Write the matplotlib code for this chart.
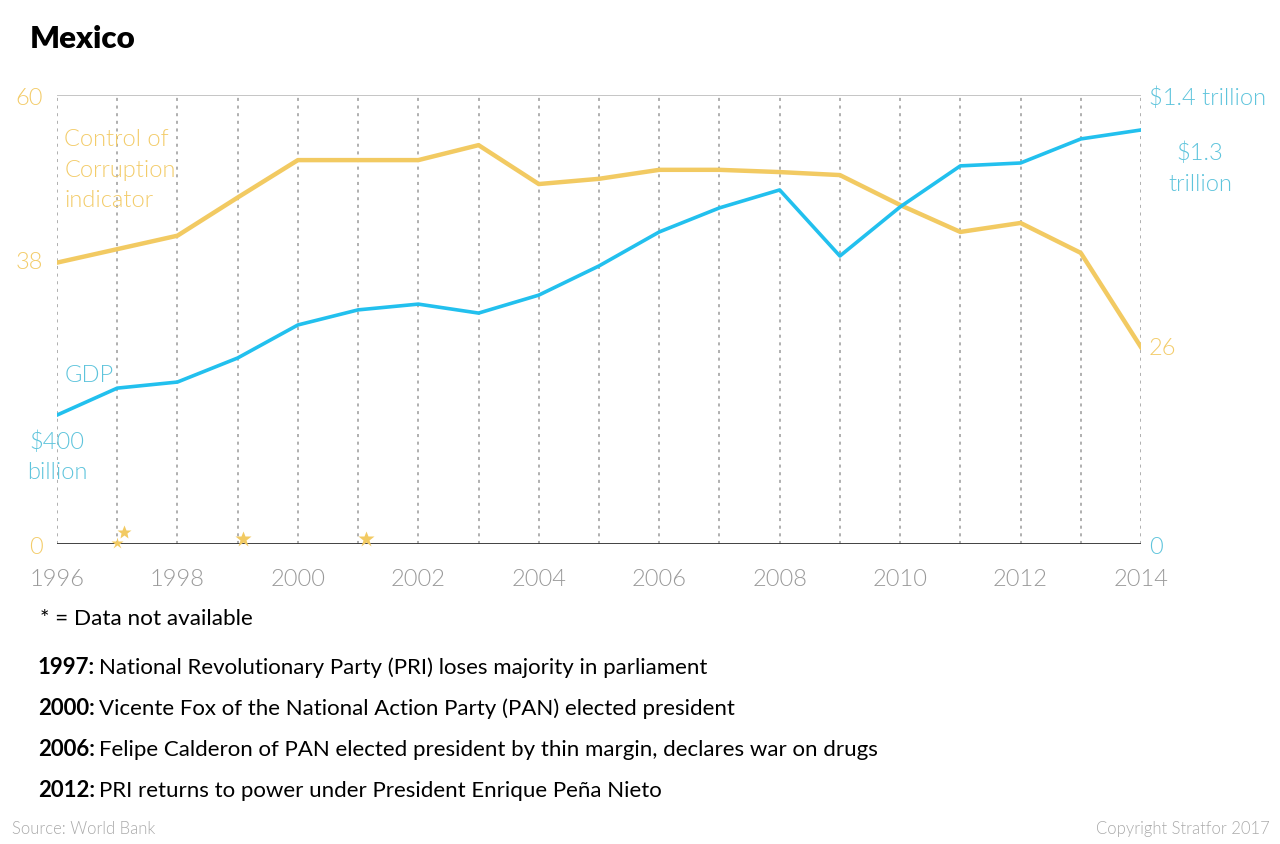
import matplotlib.pyplot as plt
from matplotlib.ticker import FixedLocator

plt.rcParams['font.family'] = ['Lato', 'DejaVu Sans']

# ---- data ----
years = list(range(1996, 2015))
corruption = [37.6, 39.4, 41.2, 46.3, 51.3, 51.3, 51.3, 53.3, 48.1, 48.8,
              50.0, 50.0, 49.7, 49.3, 45.3, 41.7, 42.9, 38.9, 26.3]
gdp_billion = [402, 486, 505, 580, 683, 730, 748, 720, 776, 867,
               973, 1048, 1104, 898, 1051, 1179, 1188, 1263, 1291]
# "data not available" stars (year, height on the corruption scale)
missing_x = [1997.0, 1997.11, 1999.09, 2001.13]
missing_y = [0.2, 1.6, 0.7, 0.7]
missing_size = [9, 10, 12, 12]
xtick_years = list(range(1996, 2015, 2))
left_ticks = [0, 38, 60]
right_ticks = [0, 1400]
right_labels = ['0', '$1.4 trillion']
events = [
    ('1997:', 'National Revolutionary Party (PRI) loses majority in parliament'),
    ('2000:', 'Vicente Fox of the National Action Party (PAN) elected president'),
    ('2006:', 'Felipe Calderon of PAN elected president by thin margin, declares war on drugs'),
    ('2012:', 'PRI returns to power under President Enrique Peña Nieto'),
]

GOLD = '#f2ca62'
GOLD_TXT = '#f3cc6a'
CYAN = '#22c0ee'
CYAN_TXT = '#5ec4dc'
GREY = '#9a9a9a'
LIGHT = 300

fig = plt.figure(figsize=(12.8, 8.45), dpi=100)
ax = fig.add_axes([57 / 1280, 300 / 845, 1084 / 1280, 449 / 845])
ax2 = ax.twinx()

# corruption (left axis)
ax.plot(years, corruption, color=GOLD, lw=3.2, zorder=3)
ax.set_ylim(0, 60)
ax.set_xlim(1996, 2014)

# GDP (right axis)
ax2.plot(years, gdp_billion, color=CYAN, lw=2.6, zorder=3)
ax2.set_ylim(0, 1400)

# grid: dotted verticals each year
for y in years:
    ax.axvline(y, color=GREY, lw=1.1, ls=(0, (2, 3)), zorder=1)
ax.axhline(60, color='#bbbbbb', lw=1.2, zorder=1)
ax.axhline(0, color='#333333', lw=1.3, zorder=4)

for a in (ax, ax2):
    for s in a.spines.values():
        s.set_visible(False)

ax.set_xticks(xtick_years)
ax.set_xticklabels([str(y) for y in xtick_years], fontsize=17,
                   color=GREY, fontweight=LIGHT)
ax.tick_params(axis='x', length=0, pad=17)
ax.yaxis.set_major_locator(FixedLocator(left_ticks))
ax.set_yticklabels([str(v) for v in left_ticks], fontsize=17, color=GOLD_TXT,
                   fontweight=LIGHT)
ax.tick_params(axis='y', length=0, pad=10)
ax2.yaxis.set_major_locator(FixedLocator(right_ticks))
ax2.set_yticklabels(right_labels, fontsize=17, color=CYAN_TXT, fontweight=LIGHT)
ax2.tick_params(axis='y', length=0, pad=6)

# missing-data stars
for x, y, s in zip(missing_x, missing_y, missing_size):
    ax.plot(x, y, marker='*', ms=s, color=GOLD, mec='none', zorder=5,
            clip_on=False)

# series labels
ax.text(1996.12, 50.1, 'Control of\nCorruption\nindicator', color=GOLD_TXT,
        fontsize=17, fontweight=LIGHT, va='center', ha='left', linespacing=1.55)
ax.text(1996.13, 22.6, 'GDP', color=CYAN_TXT, fontsize=17, fontweight=LIGHT,
        va='center', ha='left')
ax.text(1996.0, 11.8, '$400\nbillion', color=CYAN_TXT, fontsize=17,
        fontweight=LIGHT, va='center', ha='center', linespacing=1.55)
ax.text(2014.13, corruption[-1], '26', color=GOLD_TXT, fontsize=17,
        fontweight=LIGHT, va='center', ha='left')
ax2.text(2014.98, 1175, '$1.3\ntrillion', color=CYAN_TXT, fontsize=17,
         fontweight=LIGHT, va='center', ha='center', linespacing=1.55,
         clip_on=False)

# title and notes
fig.text(30 / 1280, 1 - 39 / 845, 'Mexico', fontsize=22.5, fontweight='heavy',
         va='center', ha='left', color='black')
fig.text(40 / 1280, 1 - 619 / 845, '* = Data not available', fontsize=16.2,
         va='center', ha='left', color='black')

fig.canvas.draw()
renderer = fig.canvas.get_renderer()
for i, (yr, desc) in enumerate(events):
    ypos = 1 - (668 + 41 * i) / 845
    t = fig.text(38 / 1280, ypos, yr, fontsize=16, fontweight='bold',
                 va='center', ha='left', color='black')
    bb = t.get_window_extent(renderer)
    fig.text((bb.x1 + 4) / 1280, ypos, desc, fontsize=16, va='center',
             ha='left', color='black')

fig.text(12 / 1280, 1 - 829 / 845, 'Source: World Bank', fontsize=12,
         color='#aaaaaa', fontweight=LIGHT, va='center', ha='left')
fig.text(1270 / 1280, 1 - 829 / 845, 'Copyright Stratfor 2017', fontsize=12,
         color='#aaaaaa', fontweight=LIGHT, va='center', ha='right')

fig.savefig('out.png', dpi=100)
